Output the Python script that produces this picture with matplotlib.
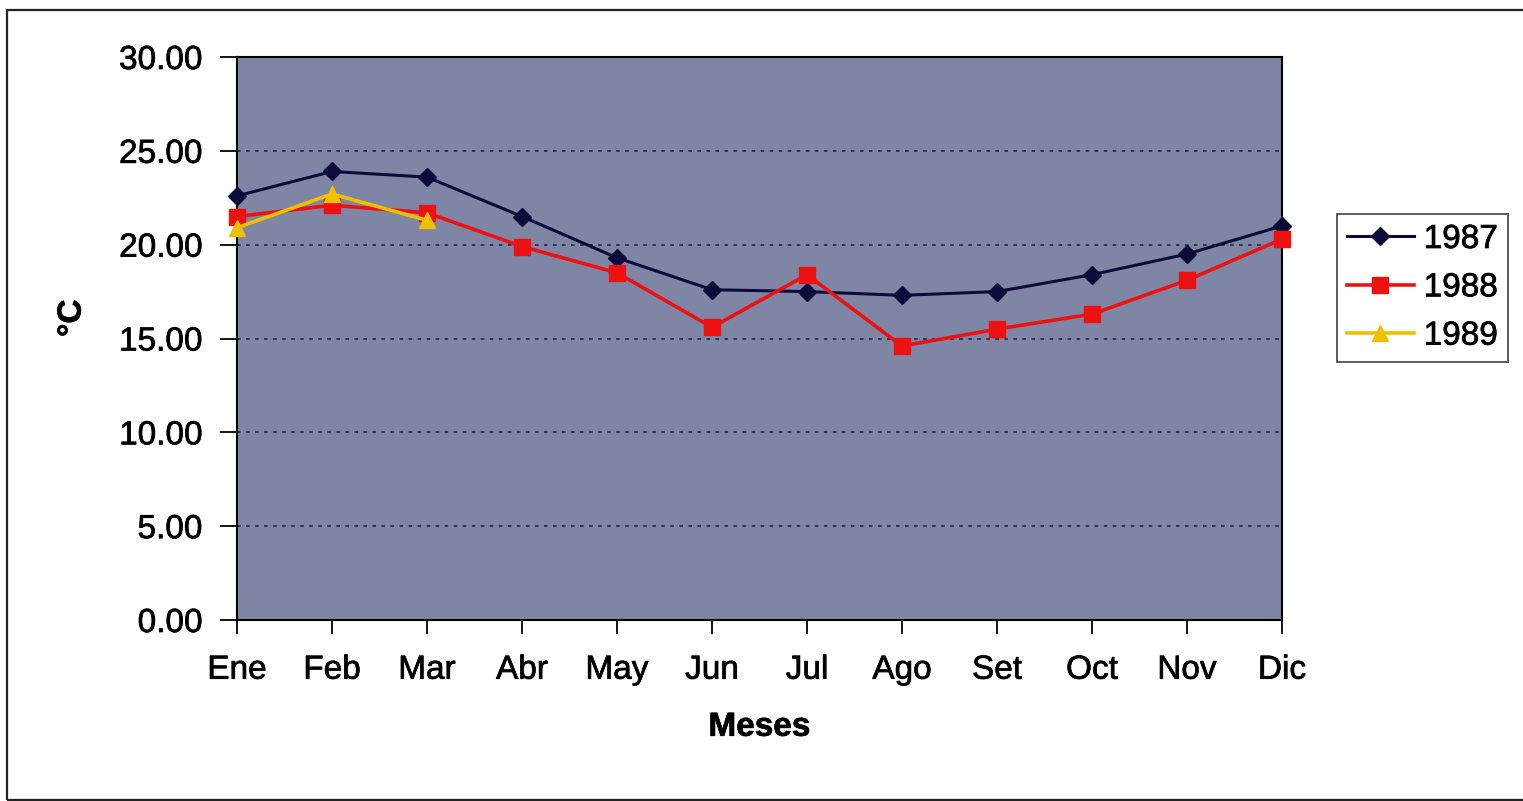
import matplotlib
matplotlib.use("Agg")
import matplotlib.pyplot as plt
import matplotlib.patheffects as pe
from matplotlib.patches import Rectangle

plt.rcParams['font.family'] = ['Liberation Sans', 'DejaVu Sans']

# Monthly mean temperature (°C)
months = ["Ene", "Feb", "Mar", "Abr", "May", "Jun", "Jul", "Ago", "Set", "Oct", "Nov", "Dic"]
t1987 = [22.6, 23.9, 23.6, 21.5, 19.3, 17.6, 17.5, 17.3, 17.5, 18.4, 19.5, 21.0]
t1988 = [21.5, 22.1, 21.7, 19.9, 18.5, 15.6, 18.4, 14.6, 15.5, 16.3, 18.1, 20.3]
t1989 = [20.9, 22.7, 21.3]
yticks = [0, 5, 10, 15, 20, 25, 30]

# slightly heavier strokes for the labels
heavy = [pe.withStroke(linewidth=0.5, foreground="black")]

fig = plt.figure(figsize=(15.23, 8.01), dpi=100)
fig.patch.set_facecolor("white")

# outer frame of the chart
fig.patches.append(Rectangle((7 / 1523, 1 / 801), 1.2, 790 / 801, transform=fig.transFigure,
                             fill=False, edgecolor="#222222", linewidth=1.6))

ax = fig.add_axes([237 / 1523, 1 - 620 / 801, 1045 / 1523, 563 / 801])
ax.set_facecolor("#7f86a5")

x = list(range(len(months)))
ax.plot(x, t1987, color="#0b0b3a", linewidth=2.2, marker="D", markersize=9,
        label="1987", zorder=3, clip_on=False)
ax.plot(x, t1988, color="#ee1111", linewidth=2.6, marker="s", markersize=11,
        label="1988", zorder=4, clip_on=False)
ax.plot(x[:len(t1989)], t1989, color="#f0c000", linewidth=2.6, marker="^", markersize=12,
        label="1989", zorder=5, clip_on=False)

ax.set_xlim(0, len(months) - 1)
ax.set_ylim(0, 30)
ax.set_xticks(x)
ax.set_xticklabels(months)
ax.set_yticks(yticks)
ax.set_yticklabels([f"{v:.2f}" for v in yticks])

for v in yticks[1:-1]:
    ax.axhline(v, color="#2a2d4a", linestyle=(0, (2, 3)), linewidth=1.3, zorder=1)

ax.tick_params(axis="y", direction="out", length=12, width=1.3, pad=13, labelsize=24)
ax.tick_params(axis="x", direction="out", length=10, width=1.3, pad=15, labelsize=24)
for lab in ax.get_xticklabels() + ax.get_yticklabels():
    lab.set_path_effects(heavy)

for side in ["left", "bottom", "right", "top"]:
    ax.spines[side].set_color("black")
    ax.spines[side].set_linewidth(1.5)

ax.set_xlabel("Meses", fontsize=24, fontweight="bold")
ax.xaxis.set_label_coords(0.5, -0.163)
ax.set_ylabel("°C", fontsize=24, fontweight="bold")
ax.yaxis.set_label_coords(-0.143, 0.536)
ax.xaxis.label.set_path_effects(heavy)
ax.yaxis.label.set_path_effects(heavy)

leg = ax.legend(loc="upper left", bbox_to_anchor=(1337 / 1523, 1 - 214 / 801),
                bbox_transform=fig.transFigure, fontsize=24, frameon=True,
                fancybox=False, handlelength=2.0, handletextpad=0.3,
                labelspacing=0.52, borderpad=0.3, borderaxespad=0)
leg.get_frame().set_edgecolor("#333333")
leg.get_frame().set_linewidth(1.4)
for t in leg.get_texts():
    t.set_path_effects(heavy)

fig.savefig("out.png", dpi=100, facecolor="white")
